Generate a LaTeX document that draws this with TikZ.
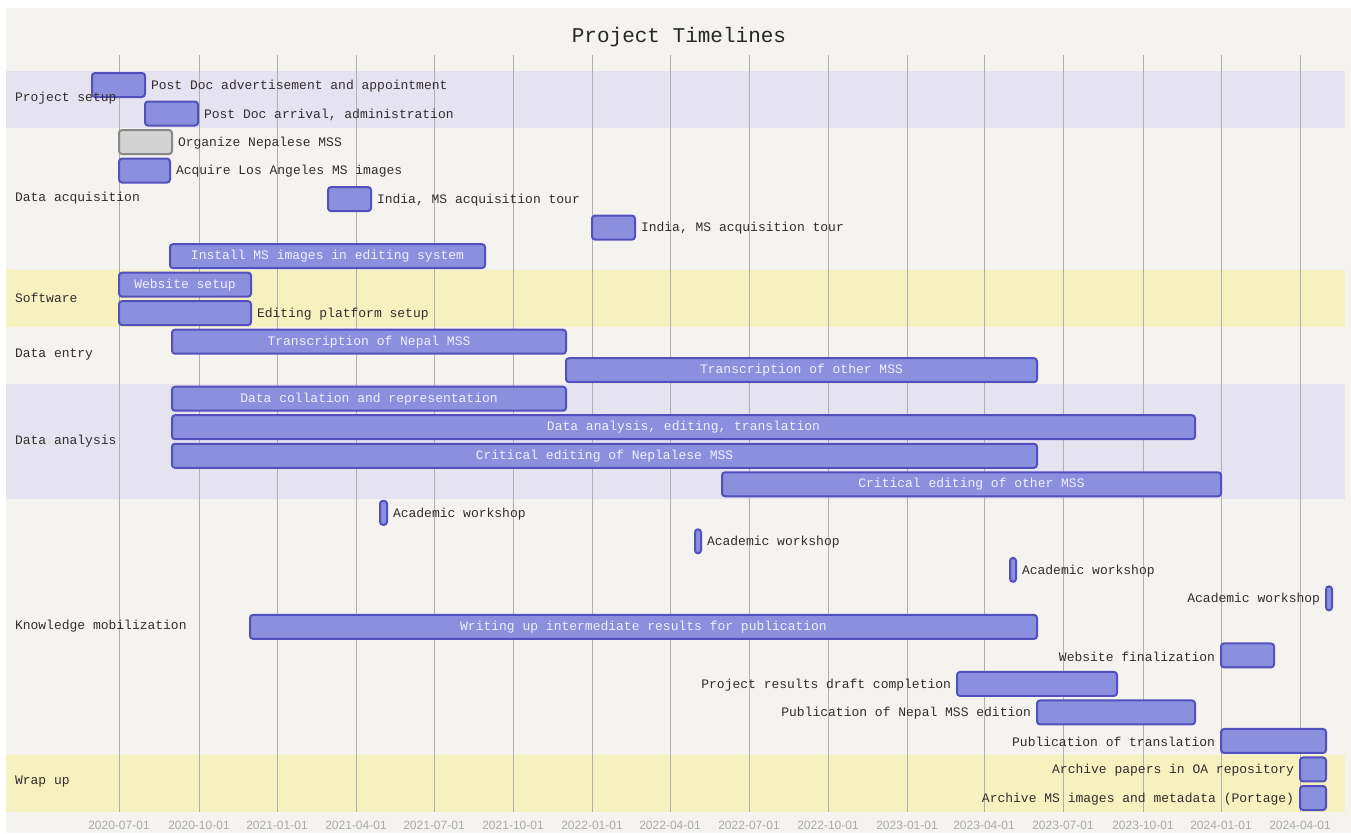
\documentclass[tikz,border=0pt]{standalone}
\usepackage{fontspec}
\newfontfamily\monof{Liberation Mono}
\newfontfamily\axisf{Liberation Sans}
\definecolor{bgc}{RGB}{244,243,239}
\definecolor{lavband}{RGB}{229,227,240}
\definecolor{yelband}{RGB}{246,242,192}
\definecolor{barfill}{RGB}{138,144,221}
\definecolor{barline}{RGB}{83,79,188}
\definecolor{greyfill}{RGB}{211,211,211}
\definecolor{greyline}{RGB}{136,136,136}
\definecolor{gridc}{RGB}{175,175,175}
\definecolor{axistext}{RGB}{170,170,170}
\definecolor{outtext}{RGB}{51,45,45}
\definecolor{intext}{RGB}{240,240,252}
\tikzset{
  taskbar/.style={draw=barline, fill=barfill, line width=2pt, rounded corners=3pt,
    minimum height=24pt, inner sep=0pt, outer sep=0pt,
    font=\monof\fontsize{13}{15}\selectfont, text=intext},
  greybar/.style={taskbar, draw=greyline, fill=greyfill},
  lbl/.style={inner sep=0pt, outer sep=0pt, font=\monof\fontsize{13}{15}\selectfont, text=outtext},
  sect/.style={lbl, anchor=west},
  gridline/.style={draw=gridc, line width=1pt},
  axislbl/.style={inner sep=0pt, font=\axisf\fontsize{12}{14}\selectfont, text=axistext},
  titlestyle/.style={inner sep=0pt, font=\monof\fontsize{21}{24}\selectfont, text=black!85}
}
% #1 name, #2 row, #3 x start, #4 x end, #5 inside text, #6 style
\newcommand\gtask[6]{\node[#6, minimum width={#4-#3}, anchor=west] (#1) at (#3,{85+(#2-1)*28.52}) {#5};}
\newcommand\rlab[3]{\node[lbl,anchor=west] (#1) at ([xshift=6pt,yshift=-1pt]#2.east) {#3};}
\newcommand\llab[3]{\node[lbl,anchor=east] (#1) at ([xshift=-6pt,yshift=-1pt]#2.west) {#3};}
\begin{document}
\begin{tikzpicture}[x=1pt,y=-1pt]
\useasboundingbox (0,0) rectangle (1351,833);
\fill[white] (0,0) rectangle (1351,833);
\fill[bgc] (6,8) rectangle (1351,833);
% section bands
\fill[lavband] (6,70.74) rectangle (1345,127.78);
\fill[yelband] (6,270.34) rectangle (1345,327.38);
\fill[lavband] (6,384.42) rectangle (1345,498.5);
\fill[yelband] (6,755.18) rectangle (1345,812.22);
% grid and axis
\foreach \gx/\gd [count=\k] in {119/2020-07-01, 199/2020-10-01, 277/2021-01-01, 356/2021-04-01,
  434/2021-07-01, 513/2021-10-01, 592/2022-01-01, 670/2022-04-01, 749/2022-07-01,
  828/2022-10-01, 907/2023-01-01, 984/2023-04-01, 1063/2023-07-01, 1143/2023-10-01,
  1221/2024-01-01, 1300/2024-04-01}{
  \coordinate (gt\k) at (\gx,55);
  \coordinate (gb\k) at (\gx,812);
  \draw[gridline] (gt\k) -- (gb\k);
  \node[axislbl] (ax\k) at (\gx,825) {\gd};
}
% title
\node[titlestyle] (title) at (679,37) {Project Timelines};
% Project setup
\gtask{t1}{1}{92}{145}{}{taskbar}
\rlab{l1}{t1}{Post Doc advertisement and appointment}
\gtask{t2}{2}{145}{198}{}{taskbar}
\rlab{l2}{t2}{Post Doc arrival, administration}
% Data acquisition
\gtask{t3}{3}{119}{172}{}{greybar}
\rlab{l3}{t3}{Organize Nepalese MSS}
\gtask{t4}{4}{119}{170}{}{taskbar}
\rlab{l4}{t4}{Acquire Los Angeles MS images}
\gtask{t5}{5}{328}{371}{}{taskbar}
\rlab{l5}{t5}{India, MS acquisition tour}
\gtask{t6}{6}{592}{635}{}{taskbar}
\rlab{l6}{t6}{India, MS acquisition tour}
\gtask{t7}{7}{170}{485}{Install MS images in editing system}{taskbar}
% Software
\gtask{t8}{8}{119}{251}{Website setup}{taskbar}
\gtask{t9}{9}{119}{251}{}{taskbar}
\rlab{l9}{t9}{Editing platform setup}
% Data entry
\gtask{t10}{10}{172}{566}{Transcription of Nepal MSS}{taskbar}
\gtask{t11}{11}{566}{1037}{Transcription of other MSS}{taskbar}
% Data analysis
\gtask{t12}{12}{172}{566}{Data collation and representation}{taskbar}
\gtask{t13}{13}{172}{1195}{Data analysis, editing, translation}{taskbar}
\gtask{t14}{14}{172}{1037}{Critical editing of Neplalese MSS}{taskbar}
\gtask{t15}{15}{722}{1221}{Critical editing of other MSS}{taskbar}
% Knowledge mobilization
\gtask{t16}{16}{380}{387}{}{taskbar}
\rlab{l16}{t16}{Academic workshop}
\gtask{t17}{17}{695}{701}{}{taskbar}
\rlab{l17}{t17}{Academic workshop}
\gtask{t18}{18}{1010}{1016}{}{taskbar}
\rlab{l18}{t18}{Academic workshop}
\gtask{t19}{19}{1326}{1332}{}{taskbar}
\llab{l19}{t19}{Academic workshop}
\gtask{t20}{20}{250}{1037}{Writing up intermediate results for publication}{taskbar}
\gtask{t21}{21}{1221}{1274}{}{taskbar}
\llab{l21}{t21}{Website finalization}
\gtask{t22}{22}{957}{1117}{}{taskbar}
\llab{l22}{t22}{Project results draft completion}
\gtask{t23}{23}{1037}{1195}{}{taskbar}
\llab{l23}{t23}{Publication of Nepal MSS edition}
\gtask{t24}{24}{1221}{1326}{}{taskbar}
\llab{l24}{t24}{Publication of translation}
% Wrap up
\gtask{t25}{25}{1300}{1326}{}{taskbar}
\llab{l25}{t25}{Archive papers in OA repository}
\gtask{t26}{26}{1300}{1326}{}{taskbar}
\llab{l26}{t26}{Archive MS images and metadata (Portage)}
% section labels
\node[sect] (s1) at (15,98) {Project setup};
\node[sect] (s2) at (15,198) {Data acquisition};
\node[sect] (s3) at (15,298) {Software};
\node[sect] (s4) at (15,355) {Data entry};
\node[sect] (s5) at (15,441) {Data analysis};
\node[sect] (s6) at (15,626) {Knowledge mobilization};
\node[sect] (s7) at (15,782) {Wrap up};
\end{tikzpicture}
\end{document}
